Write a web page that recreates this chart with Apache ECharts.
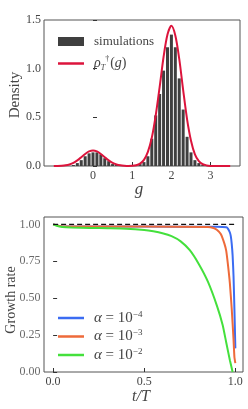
<!DOCTYPE html>
<html>
<head>
<meta charset="utf-8">
<script src="https://cdn.jsdelivr.net/npm/echarts@6/dist/echarts.min.js"></script>
<style>html,body{margin:0;padding:0;background:#fff}#c{width:248px;height:409px}</style>
</head>
<body>
<div id="c"></div>
<script>
// ---------- top panel data ----------
const histCenters = [-0.5,-0.4,-0.3,-0.2,-0.1,0.0,0.1,0.2,0.3,0.4,0.5,0.6,
  1.2,1.3,1.4,1.5,1.6,1.7,1.8,1.9,2.0,2.1,2.2,2.3,2.4,2.5,2.6,2.7,2.8];
const histDensity = [0.01,0.03,0.06,0.10,0.13,0.14,0.14,0.12,0.08,0.05,0.02,0.01,
  0.02,0.04,0.10,0.28,0.52,0.74,0.98,1.22,1.35,1.22,0.90,0.58,0.30,0.14,0.06,0.03,0.01];
const curveG = [-1.0,-0.9,-0.8,-0.7,-0.6,-0.5,-0.4,-0.3,-0.2,-0.1,
  0.0,0.1,0.2,0.3,0.4,0.5,0.6,0.7,0.8,0.9,
  1.0,1.1,1.2,1.3,1.4,1.5,1.6,1.7,1.8,1.9,
  2.0,2.1,2.2,2.3,2.4,2.5,2.6,2.7,2.8,2.9,
  3.0,3.1,3.2,3.3,3.4,3.5];
const curveRho = [0,0.001,0.003,0.007,0.016,0.032,0.058,0.09,0.124,0.15,
  0.16,0.15,0.124,0.09,0.058,0.032,0.016,0.007,0.003,0.001,
  0.002,0.008,0.024,0.063,0.145,0.29,0.52,0.81,1.12,1.35,
  1.44,1.34,1.10,0.78,0.48,0.26,0.12,0.05,0.018,0.006,
  0.001,0,0,0,0,0];
const topXTicks = [0,1,2,3];

// ---------- bottom panel data ----------
const tBlue = [0,0.05,0.5,0.9,0.95,0.96,0.97,0.975,0.98,0.985,0.99,0.995,1.0];
const yBlue = [1.0,0.987,0.985,0.984,0.98,0.97,0.945,0.92,0.87,0.79,0.65,0.42,0.16];
const tOrange = [0,0.05,0.5,0.85,0.88,0.9,0.92,0.94,0.95,0.96,0.97,0.98,0.99,0.995,1.0];
const yOrange = [1.0,0.987,0.985,0.982,0.975,0.962,0.935,0.87,0.82,0.72,0.6,0.43,0.22,0.1,0.06];
const tGreen = [0,0.02,0.05,0.1,0.2,0.3,0.4,0.5,0.55,0.6,0.65,0.7,0.75,0.8,0.85,0.9,0.93,0.95,0.97,0.985];
const yGreen = [1.0,0.99,0.983,0.979,0.976,0.974,0.971,0.962,0.953,0.94,0.92,0.885,0.825,0.73,0.61,0.445,0.32,0.2,0.08,0.0];
const tRef = [0,1.0];
const yRef = [1.0,1.0];
const botXTicks = [0,0.5,1.0];
const botYTicks = [0,0.25,0.5,0.75,1.0];
const seriesNames = ['a4','a3','a2'];
const seriesExp = ['\u22124','\u22123','\u22122'];

const zip = (a,b) => a.map((v,i)=>[v,b[i]]);
const SERIF = "'Liberation Serif','DejaVu Serif',serif";
const labelStyle = {color:'#444', fontFamily:SERIF, fontSize:12, interval:0};
const tickStyle = {inside:true, length:4, interval:0, lineStyle:{color:'#333', width:1}};
const gridBase = {show:true, borderColor:'#555', borderWidth:1, backgroundColor:'transparent',
  containLabel:false, outerBoundsMode:'none'};
const BOT_XMIN = -0.05;

const chart = echarts.init(document.getElementById('c'), null, {renderer:'canvas'});
chart.setOption({
  animation:false,
  backgroundColor:'#fff',
  grid:[
    Object.assign({left:44, top:20, right:8, bottom:243}, gridBase),
    Object.assign({left:44, top:217, right:5, bottom:37}, gridBase)
  ],
  xAxis:[
    {type:'value', gridIndex:0, min:-1.25, max:3.75,
     axisLine:{show:false}, splitLine:{show:false},
     axisTick:Object.assign({customValues:topXTicks}, tickStyle),
     axisLabel:Object.assign({customValues:topXTicks, margin:4, formatter:v=>String(v)}, labelStyle)},
    {type:'value', gridIndex:1, min:BOT_XMIN, max:1.042,
     axisLine:{show:false}, splitLine:{show:false},
     axisTick:Object.assign({customValues:botXTicks}, tickStyle),
     axisLabel:Object.assign({customValues:botXTicks, margin:4, formatter:v=>v.toFixed(1)}, labelStyle)}
  ],
  yAxis:[
    {type:'value', gridIndex:0, min:0, max:1.5, interval:0.5,
     axisLine:{show:false}, splitLine:{show:false},
     axisTick:tickStyle,
     axisLabel:Object.assign({margin:3, formatter:v=>v.toFixed(1)}, labelStyle)},
    {type:'value', gridIndex:1, min:0, max:1.05,
     axisLine:{show:false}, splitLine:{show:false},
     axisTick:Object.assign({customValues:botYTicks}, tickStyle),
     axisLabel:{show:false}}
  ],
  graphic:[
    {type:'text', x:15, y:95, rotation:Math.PI/2, silent:true,
     style:{text:'Density', fill:'#444', font:"15px 'Liberation Serif', serif", align:'center', verticalAlign:'middle'}},
    {type:'text', x:11, y:300, rotation:Math.PI/2, silent:true,
     style:{text:'Growth rate', fill:'#444', font:"14px 'Liberation Serif', serif", align:'center', verticalAlign:'middle'}},
    {type:'text', x:139, y:190, silent:true,
     style:{text:'g', fill:'#444', font:"italic 17px 'Liberation Serif', serif", align:'center', verticalAlign:'middle'}},
    {type:'text', x:141, y:397, silent:true,
     style:{text:'t/T', fill:'#444', font:"italic 16px 'Liberation Serif', serif", align:'center', verticalAlign:'middle'}}
  ],
  legend:[
    {data:[{name:'simulations', icon:'rect'}], left:53, top:30, itemWidth:26, itemHeight:9,
     textStyle:{fontFamily:SERIF, fontSize:13, color:'#444', padding:[0,0,0,5]}},
    {data:[{name:'rho', icon:'rect'}], left:53, top:50, itemWidth:26, itemHeight:2.5,
     formatter:()=>'{i|\u03C1}{s|T}{u|\u2020}{n|(}{i|g}{n|)}',
     textStyle:{fontFamily:SERIF, fontSize:13, color:'#444', padding:[0,0,0,5],
       rich:{i:{fontFamily:SERIF, fontStyle:'italic', fontSize:14, color:'#444'},
             n:{fontFamily:SERIF, fontSize:14, color:'#444'},
             s:{fontFamily:SERIF, fontStyle:'italic', fontSize:8, color:'#444', verticalAlign:'bottom', padding:[7,0,0,0]},
             u:{fontFamily:SERIF, fontSize:8, color:'#444', verticalAlign:'top', padding:[0,1,9,0]}}}},
    {data:seriesNames.map(n=>({name:n, icon:'rect'})), left:53, top:305, orient:'vertical',
     itemWidth:26, itemHeight:2.5, itemGap:3,
     formatter:n=>'{i|\u03B1}{n| = 10}{u|'+seriesExp[seriesNames.indexOf(n)]+'}',
     textStyle:{fontFamily:SERIF, fontSize:14, color:'#444', padding:[0,0,0,5],
       rich:{i:{fontFamily:SERIF, fontStyle:'italic', fontSize:15, color:'#444', lineHeight:16},
             n:{fontFamily:SERIF, fontSize:15, color:'#444', lineHeight:16},
             u:{fontFamily:SERIF, fontSize:9, color:'#444', verticalAlign:'top', lineHeight:16, padding:[0,0,6,0]}}}}
  ],
  series:[
    {name:'simulations', type:'bar', xAxisIndex:0, yAxisIndex:0, data:zip(histCenters,histDensity),
     barWidth:3, itemStyle:{color:'#3f3f3f'}, z:2},
    {name:'rho', type:'line', xAxisIndex:0, yAxisIndex:0, data:zip(curveG,curveRho),
     smooth:0.3, showSymbol:false, lineStyle:{color:'#dc143c', width:2}, itemStyle:{color:'#dc143c'}, z:3},
    {name:'a4', type:'line', xAxisIndex:1, yAxisIndex:1, data:zip(tBlue,yBlue),
     smooth:0.2, showSymbol:false, lineStyle:{color:'#3b6cf2', width:2}, itemStyle:{color:'#3b6cf2'}, z:3},
    {name:'a3', type:'line', xAxisIndex:1, yAxisIndex:1, data:zip(tOrange,yOrange),
     smooth:0.2, showSymbol:false, lineStyle:{color:'#ee6a3a', width:2}, itemStyle:{color:'#ee6a3a'}, z:3},
    {name:'a2', type:'line', xAxisIndex:1, yAxisIndex:1, data:zip(tGreen,yGreen),
     smooth:0.2, showSymbol:false, lineStyle:{color:'#44e03c', width:2}, itemStyle:{color:'#44e03c'}, z:3},
    {name:'ref', type:'line', xAxisIndex:1, yAxisIndex:1, data:zip(tRef,yRef),
     showSymbol:false, lineStyle:{color:'#111', width:1.3, type:[5,3]}, z:4},
    {name:'ytick-labels', type:'scatter', xAxisIndex:1, yAxisIndex:1, silent:true, clip:false,
     data:botYTicks.map(v=>[BOT_XMIN, v]), symbolSize:1, itemStyle:{color:'rgba(0,0,0,0)'},
     label:{show:true, position:'left', distance:3, formatter:p=>p.value[1].toFixed(2),
       color:'#444', fontFamily:SERIF, fontSize:12}, labelLayout:{hideOverlap:false}, z:5}
  ]
});
</script>
</body>
</html>
